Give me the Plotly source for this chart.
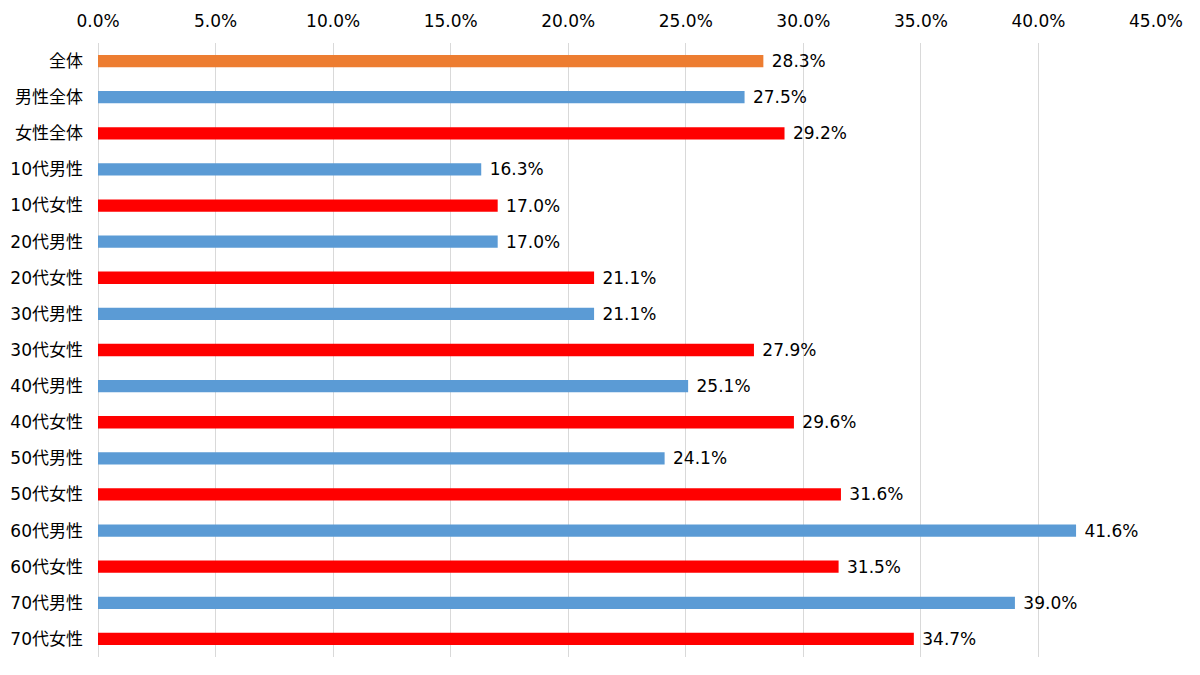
import plotly.graph_objects as go

categories = ["全体", "男性全体", "女性全体", "10代男性", "10代女性", "20代男性", "20代女性",
              "30代男性", "30代女性", "40代男性", "40代女性", "50代男性", "50代女性",
              "60代男性", "60代女性", "70代男性", "70代女性"]
values = [28.3, 27.5, 29.2, 16.3, 17.0, 17.0, 21.1, 21.1, 27.9, 25.1, 29.6, 24.1, 31.6,
          41.6, 31.5, 39.0, 34.7]
group = ["all", "m", "f", "m", "f", "m", "f", "m", "f", "m", "f", "m", "f", "m", "f", "m", "f"]
tick_vals = [0, 5, 10, 15, 20, 25, 30, 35, 40, 45]
tick_text = [f"{v:.1f}%" for v in tick_vals]

color_map = {"all": "#ED7D31", "m": "#5B9BD5", "f": "#FF0000"}
colors = [color_map[g] for g in group]

font_fam = "DejaVu Sans, Noto Sans CJK JP, sans-serif"

fig = go.Figure(go.Bar(
    x=values, y=categories, orientation="h",
    marker=dict(color=colors, line=dict(width=0)),
    width=0.34,
    text=["\u00a0" + f"{v:.1f}%" for v in values], textposition="outside",
    constraintext="none",
    textfont=dict(family=font_fam, size=17, color="#000000"),
    cliponaxis=False,
))

fig.update_layout(
    width=1192, height=667,
    margin=dict(l=90, r=44, t=35, b=18),
    plot_bgcolor="white", paper_bgcolor="white",
    showlegend=False,
    font=dict(family=font_fam, size=17, color="#000000"),
    xaxis=dict(range=[0, 45], side="top", tickvals=tick_vals, ticktext=tick_text,
               automargin=False, ticklabelstandoff=12,
               showgrid=True, gridcolor="#D9D9D9", gridwidth=1, zeroline=True,
               zerolinecolor="#D9D9D9", zerolinewidth=1, showline=False,
               tickfont=dict(family=font_fam, size=17, color="#000000"), ticks=""),
    yaxis=dict(autorange="reversed", showgrid=False, zeroline=False, showline=False,
               automargin=False, ticks="", ticklabelstandoff=14,
               tickfont=dict(family=font_fam, size=17, color="#000000")),
)

fig.write_html("out.html")
